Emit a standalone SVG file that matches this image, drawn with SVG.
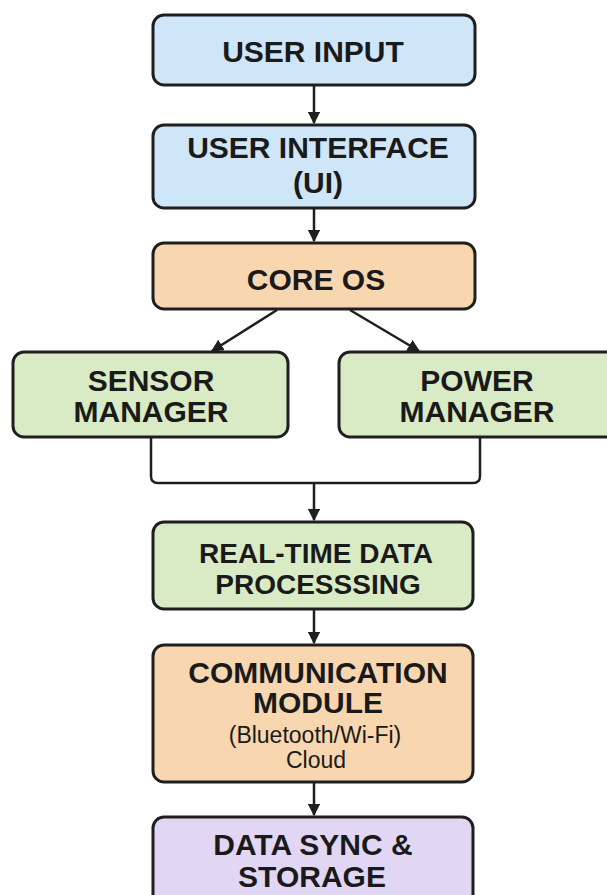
<svg xmlns="http://www.w3.org/2000/svg" width="607" height="895" viewBox="0 0 607 895">
<defs>
<marker id="ah" viewBox="0 0 10 10" refX="9" refY="5" markerWidth="5" markerHeight="5" orient="auto" markerUnits="strokeWidth">
<path d="M0,0 L10,5 L0,10 z" fill="#1f1f1f"/>
</marker>
<style>
.box{stroke:#1f1f1f;stroke-width:3}
.blue{fill:#cfe5f8}
.orange{fill:#f8d6b0}
.green{fill:#d9ebc4}
.purple{fill:#e2d6f5}
.t{font-family:"Liberation Sans",Arial,sans-serif;font-weight:bold;font-size:30px;fill:#1a1a1a;text-anchor:middle}
.t2{font-size:28px}
.s{font-family:"Liberation Sans",Arial,sans-serif;font-size:23px;fill:#1a1a1a;text-anchor:middle}
.c{fill:none;stroke:#1f1f1f;stroke-width:2.5}
</style>
</defs>
<rect width="607" height="895" fill="#ffffff"/>
<g id="connectors">
<line class="c" x1="314" y1="86" x2="314" y2="123" marker-end="url(#ah)"/>
<line class="c" x1="314" y1="209" x2="314" y2="241" marker-end="url(#ah)"/>
<line class="c" x1="277" y1="310" x2="212" y2="351" marker-end="url(#ah)"/>
<line class="c" x1="350" y1="310" x2="419" y2="351" marker-end="url(#ah)"/>
<path class="c" d="M151,438 V476 Q151,483 158,483 H473 Q480,483 480,476 V438"/>
<line class="c" x1="314" y1="483" x2="314" y2="520" marker-end="url(#ah)"/>
<line class="c" x1="314" y1="610" x2="314" y2="643" marker-end="url(#ah)"/>
<line class="c" x1="314" y1="783" x2="314" y2="815" marker-end="url(#ah)"/>
</g>
<g id="user-input">
<rect class="box blue" x="153" y="15" width="322" height="70" rx="11"/>
<text class="t" x="313" y="62">USER INPUT</text>
</g>
<g id="user-interface">
<rect class="box blue" x="153" y="125" width="322" height="83" rx="11"/>
<text class="t" x="318" y="158">USER INTERFACE</text>
<text class="t" x="318" y="193">(UI)</text>
</g>
<g id="core-os">
<rect class="box orange" x="153" y="243" width="322" height="66" rx="11"/>
<text class="t" x="316" y="290">CORE OS</text>
</g>
<g id="sensor-manager">
<rect class="box green" x="13" y="352" width="275" height="85" rx="11"/>
<text class="t" x="151" y="391">SENSOR</text>
<text class="t" x="151" y="422">MANAGER</text>
</g>
<g id="power-manager">
<rect class="box green" x="339" y="352" width="280" height="85" rx="11"/>
<text class="t" x="477" y="391">POWER</text>
<text class="t" x="477" y="422">MANAGER</text>
</g>
<g id="real-time">
<rect class="box green" x="153" y="522" width="320" height="87" rx="11"/>
<text class="t t2" x="316" y="563">REAL-TIME DATA</text>
<text class="t t2" x="318" y="594">PROCESSSING</text>
</g>
<g id="communication">
<rect class="box orange" x="153" y="645" width="320" height="137" rx="11"/>
<text class="t" x="318" y="683">COMMUNICATION</text>
<text class="t" x="318" y="713">MODULE</text>
<text class="s" x="315" y="743">(Bluetooth/Wi-Fi)</text>
<text class="s" x="316" y="768">Cloud</text>
</g>
<g id="data-sync">
<rect class="box purple" x="153" y="817" width="320" height="100" rx="11"/>
<text class="t" x="313" y="855">DATA SYNC &amp;</text>
<text class="t" x="312" y="887">STORAGE</text>
</g>
</svg>
